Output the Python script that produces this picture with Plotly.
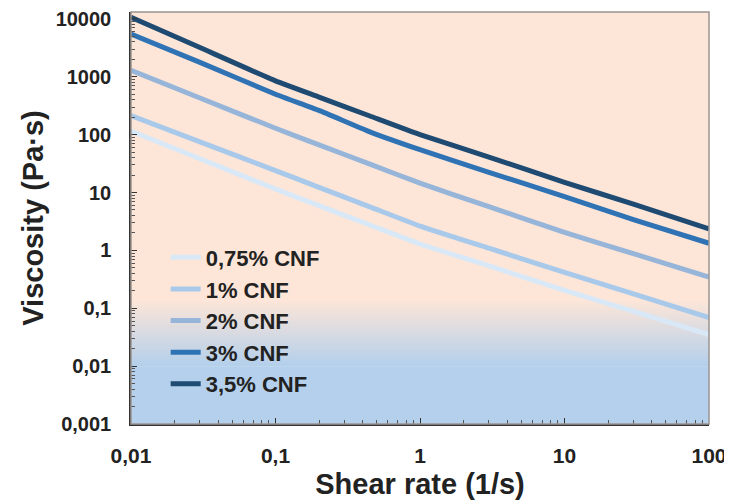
import plotly.graph_objects as go
import numpy as np

shear_rate = [0.01, 0.03, 0.1, 0.2, 0.45, 1, 3, 10, 30, 100]
visc_075 = [115, 38.3, 11.5, 5.94, 2.75, 1.29, 0.54, 0.204, 0.088, 0.035]
visc_1 = [214, 75, 24, 12.3, 5.66, 2.63, 1.09, 0.417, 0.177, 0.069]
visc_2 = [1290, 430, 129, 66.7, 30.9, 14.5, 5.7, 2.04, 0.877, 0.347]
visc_3 = [5500, 1780, 500, 263, 112, 55, 22.4, 8.5, 3.4, 1.33]
visc_35 = [10700, 3200, 850, 447, 210, 100, 41, 15, 6.3, 2.35]

series_names = ["0,75% CNF", "1% CNF", "2% CNF", "3% CNF", "3,5% CNF"]
series_values = [visc_075, visc_1, visc_2, visc_3, visc_35]
series_colors = ["#d9e8f7", "#a9c9ea", "#96b5d8", "#2f73b5", "#1f4a72"]

x_tickvals = [0.01, 0.1, 1, 10, 100]
x_ticktext = ["0,01", "0,1", "1", "10", "100"]
y_tickvals = [0.001, 0.01, 0.1, 1, 10, 100, 1000, 10000]
y_ticktext = ["0,001", "0,01", "0,1", "1", "10", "100", "1000", "10000"]

Y_MIN, Y_MAX = -3, 4.12

fig = go.Figure()
for name, vals, col in zip(series_names, series_values, series_colors):
    fig.add_trace(go.Scatter(
        x=shear_rate, y=vals, mode="lines", name=name,
        line=dict(color=col, width=5, shape="spline", smoothing=0.4),
    ))

# background gradient: peach on top, blue at the bottom
peach = np.array([253, 230, 216])
blue = np.array([180, 208, 236])
g_top, g_bot = -0.87, -2.0
def frac(lv):
    return (lv - Y_MIN) / (Y_MAX - Y_MIN)
shapes = []
shapes.append(dict(type="rect", xref="paper", yref="paper", x0=0, x1=1,
                   y0=frac(g_top), y1=1, fillcolor="rgb(%d,%d,%d)" % tuple(peach),
                   line=dict(width=0), layer="below"))
shapes.append(dict(type="rect", xref="paper", yref="paper", x0=0, x1=1,
                   y0=0, y1=frac(g_bot), fillcolor="rgb(%d,%d,%d)" % tuple(blue),
                   line=dict(width=0), layer="below"))
n = 40
edges = np.linspace(g_top, g_bot, n + 1)
for i in range(n):
    t = (i + 0.5) / n
    c = peach * (1 - t) + blue * t
    shapes.append(dict(type="rect", xref="paper", yref="paper", x0=0, x1=1,
                       y0=frac(edges[i + 1]) - 0.001, y1=frac(edges[i]) + 0.001,
                       fillcolor="rgb(%d,%d,%d)" % tuple(c.astype(int)),
                       line=dict(width=0), layer="below"))
# frame (top/right gray)
shapes.append(dict(type="rect", xref="paper", yref="paper", x0=0, x1=1, y0=0, y1=1,
                   line=dict(color="#9a9490", width=1.5), fillcolor="rgba(0,0,0,0)",
                   layer="above"))

font_fam = "Liberation Sans, Arial, sans-serif"
fig.update_layout(
    width=732, height=503,
    margin=dict(l=123, r=31, t=4, b=87),
    paper_bgcolor="white", plot_bgcolor="white",
    shapes=shapes,
    font=dict(family=font_fam, color="#222222"),
    showlegend=True,
    legend=dict(x=0.06, y=0.455, xanchor="left", yanchor="top",
                bgcolor="rgba(0,0,0,0)",
                font=dict(size=22, family=font_fam, color="#222222", weight="bold"),
                itemwidth=30, tracegroupgap=0),
)
fig.update_xaxes(
    type="log", range=[-2, 2], automargin=False,
    tickmode="array", tickvals=x_tickvals, ticktext=x_ticktext,
    ticks="inside", ticklen=6, tickcolor="#333", tickwidth=1.2,
    minor=dict(ticks="inside", ticklen=4, tickcolor="#555", dtick="D1"),
    showline=True, linecolor="#333", linewidth=1.5,
    showgrid=False, zeroline=False, ticklabelstandoff=12,
    ticklabeloverflow="allow",
    tickfont=dict(size=21, family=font_fam, color="#222", weight="bold"),
    title=dict(text="Shear rate (1/s)", standoff=8,
               font=dict(size=29, family=font_fam, color="#222", weight="bold")),
)
fig.update_yaxes(
    type="log", range=[Y_MIN, Y_MAX], automargin=False,
    tickmode="array", tickvals=y_tickvals, ticktext=y_ticktext,
    ticks="inside", ticklen=6, tickcolor="#333", tickwidth=1.2,
    minor=dict(ticks="inside", ticklen=4, tickcolor="#555", dtick="D1"),
    showline=True, linecolor="#333", linewidth=1.5,
    showgrid=False, zeroline=False, ticklabelstandoff=14,
    ticklabeloverflow="allow",
    tickfont=dict(size=20, family=font_fam, color="#222", weight="bold"),
    title=dict(text="Viscosity (Pa·s)", standoff=3,
               font=dict(size=29, family=font_fam, color="#222", weight="bold")),
)
fig.write_html("out.html")
